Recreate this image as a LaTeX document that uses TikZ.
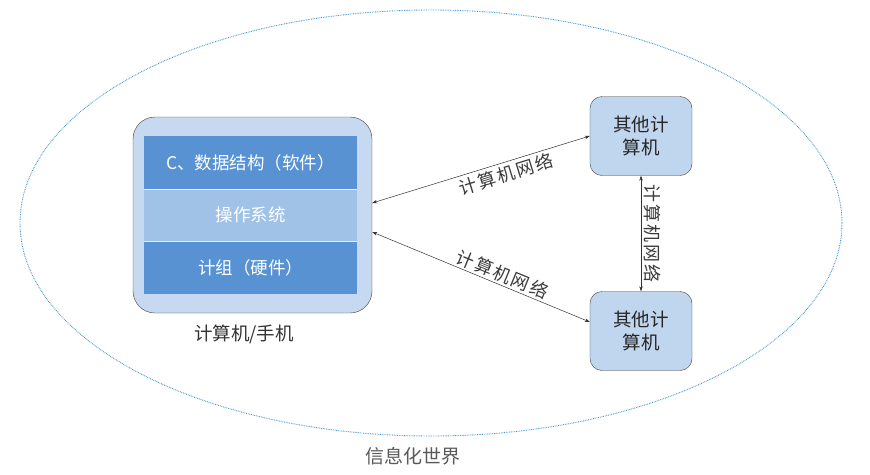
\documentclass[tikz,border=0pt]{standalone}
\usepackage{fontspec}
\setmainfont{Noto Sans CJK SC}
\usetikzlibrary{arrows.meta}
\definecolor{outerfill}{RGB}{198,217,240}
\definecolor{darklayer}{RGB}{88,146,210}
\definecolor{midlayer}{RGB}{160,194,230}
\definecolor{otherfill}{RGB}{192,213,238}
\definecolor{ellcol}{RGB}{70,155,215}
\definecolor{txtgray}{RGB}{60,60,60}
\newcommand{\netname}{计\kern2pt 算\kern2pt 机\kern2pt 网\kern2pt 络}
\tikzset{
  layerbox/.style={minimum width=213pt, minimum height=52.5pt, inner sep=0pt, text=white, font=\fontsize{17.5}{20}\selectfont},
  otherbox/.style={draw=black!75, fill=otherfill, rounded corners=12pt, minimum width=102pt, minimum height=79pt, align=center, font=\fontsize{18.5}{22.5}\selectfont, text=black!85},
  netarrow/.style={{Stealth[length=5pt,width=3.5pt]}-{Stealth[length=5pt,width=3.5pt]}, draw=black!80, line width=0.5pt},
  netlabel/.style={font=\fontsize{18}{20}\selectfont, text=txtgray, inner sep=1pt},
}
\begin{document}
\begin{tikzpicture}[x=1pt,y=-1pt]
\useasboundingbox (0,0) rectangle (870,474);
\fill[white] (0,0) rectangle (870,474);
% world ellipse
\draw[ellcol, line width=0.9pt, dash pattern=on 0.8pt off 0.9pt] (431,223) ellipse [x radius=411pt, y radius=213pt];
\node[text=black!65, font=\fontsize{19}{22}\selectfont] (world) at (413,456) {信息化世界};
% computer
\node[draw=black!75, fill=outerfill, rounded corners=22pt, minimum width=239pt, minimum height=196pt] (comp) at (252.5,215) {};
\node[layerbox, fill=darklayer] (l1) at (250.5,162.5) {C、数据结构（软件）};
\node[layerbox, fill=midlayer] (l2) at (250.5,215) {操作系统};
\node[layerbox, fill=darklayer] (l3) at (250.5,267.5) {计组（硬件）};
\draw[white!85!darklayer, line width=0.6pt] (l1.south west) -- (l1.south east);
\draw[white!85!darklayer, line width=0.6pt] (l2.south west) -- (l2.south east);
\node[text=black!80, font=\fontsize{18.5}{22}\selectfont] (complabel) at (244,334) {计算机/手机};
% other computers
\node[otherbox] (o1) at (641,136) {其他计\\算机};
\node[otherbox] (o2) at (641,331) {其他计\\算机};
% connectors
\draw[netarrow] ([yshift=12pt]comp.east) -- node[netlabel, pos=0.6, sloped, below=2pt] {\netname} (o1.west);
\draw[netarrow] ([yshift=-17pt]comp.east) -- node[netlabel, pos=0.58, sloped, above=1pt] {\netname} ([yshift=9pt]o2.west);
\draw[netarrow] (o1.south) -- node[netlabel, midway, sloped, above=1.5pt] {\netname} (o2.north);
\end{tikzpicture}
\end{document}
